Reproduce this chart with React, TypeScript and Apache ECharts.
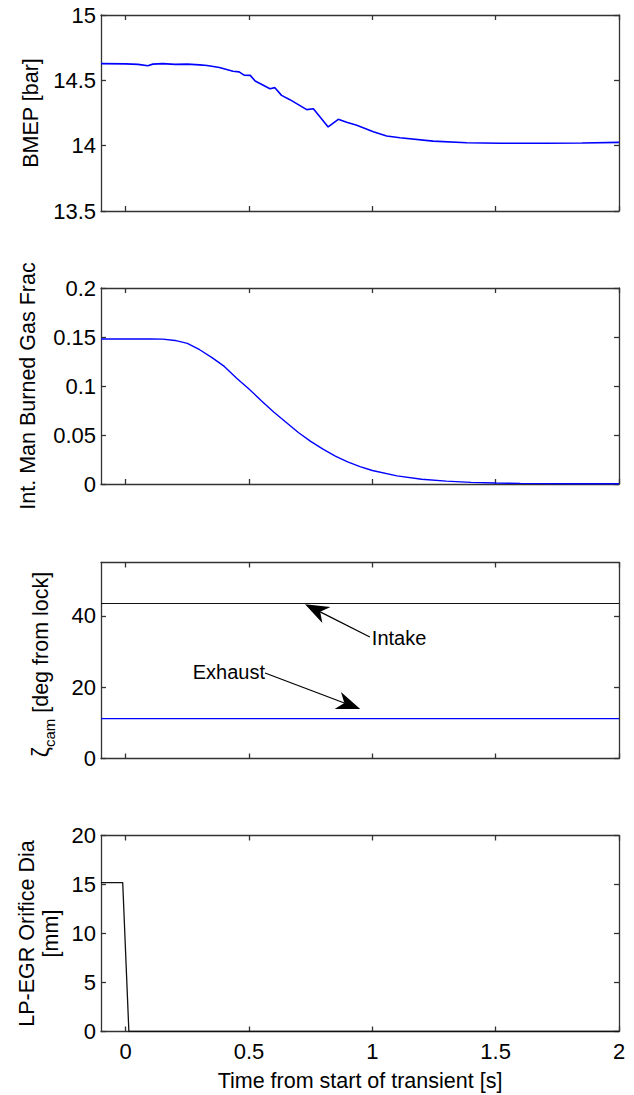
import React, { useEffect, useRef } from "react";
import * as echarts from "echarts";

// ---------- data ----------
const bmepT = [-0.1, 0.0, 0.05, 0.09, 0.11, 0.15, 0.2, 0.25, 0.3, 0.33, 0.38, 0.435, 0.46, 0.48, 0.505, 0.525, 0.585, 0.605, 0.632, 0.666, 0.734, 0.761, 0.821, 0.862, 0.896, 0.937, 1.004, 1.058, 1.112, 1.246, 1.383, 1.517, 1.7, 1.85, 2.0];
const bmepV = [14.628, 14.626, 14.622, 14.612, 14.624, 14.628, 14.622, 14.624, 14.618, 14.613, 14.598, 14.57, 14.565, 14.54, 14.538, 14.495, 14.436, 14.444, 14.385, 14.352, 14.276, 14.283, 14.143, 14.202, 14.179, 14.156, 14.107, 14.074, 14.061, 14.035, 14.022, 14.018, 14.018, 14.02, 14.025];

const bgfT = [-0.1, 0.0, 0.1, 0.15, 0.2, 0.25, 0.3, 0.35, 0.4, 0.45, 0.5, 0.55, 0.6, 0.65, 0.7, 0.75, 0.8, 0.85, 0.9, 0.95, 1.0, 1.1, 1.2, 1.3, 1.4, 1.5, 1.6, 1.7, 1.8, 2.0];
const bgfV = [0.148, 0.148, 0.148, 0.1478, 0.1465, 0.1435, 0.137, 0.129, 0.12, 0.108, 0.097, 0.085, 0.0735, 0.063, 0.0525, 0.0435, 0.0355, 0.0285, 0.0225, 0.0178, 0.0138, 0.0083, 0.0049, 0.0029, 0.0017, 0.001, 0.0006, 0.0004, 0.0003, 0.0002];

const camT = [-0.1, 2.0];
const intakeV = [43.5, 43.5];
const exhaustV = [11.2, 11.2];

const egrT = [-0.1, -0.012, 0.013, 2.0];
const egrV = [15.2, 15.2, 0, 0];

const xTicks = [0, 0.5, 1, 1.5, 2];
const bmepTicks = [13.5, 14, 14.5, 15];
const bgfTicks = [0, 0.05, 0.1, 0.15, 0.2];
const camTicks = [0, 20, 40];
const egrTicks = [0, 5, 10, 15, 20];

const yRanges = [
  [13.5, 15],
  [0, 0.2],
  [0, 55],
  [0, 20],
];

// annotation anchor points in data coordinates (panel 3)
const intakeTail = [0.99, 34.1];
const intakeTip = [0.727, 43.3];
const exhaustTail = [0.565, 24.0];
const exhaustTip = [0.951, 13.9];

// ---------- layout ----------
const FONT = '"Liberation Sans", Arial, Helvetica, sans-serif';
const AX = "#333333";
const GRID_LEFT = 101;
const GRID_W = 518;
const GRID_H = 196;
const GRID_TOPS = [15, 288, 562.5, 835.5];
const TICK_FS = 22;
const TITLE_FS = 21.5;

const zip = (a: number[], b: number[]) => a.map((v, i) => [v, b[i]]);

function xAxis(grid: number, pos: "bottom" | "top", labels: boolean) {
  return {
    type: "value",
    gridIndex: grid,
    position: pos,
    min: -0.1,
    max: 2,
    axisLine: { show: true, onZero: false, lineStyle: { color: AX, width: 1.3 } },
    axisTick: { show: true, inside: true, length: 5, customValues: xTicks, lineStyle: { color: AX, width: 1.3 } },
    axisLabel: { show: labels, customValues: xTicks, margin: 9, fontSize: TICK_FS, color: "#000", fontFamily: FONT },
    splitLine: { show: false },
  };
}

function yAxis(grid: number, pos: "left" | "right", ticks: number[], labels: boolean) {
  return {
    type: "value",
    gridIndex: grid,
    position: pos,
    min: yRanges[grid][0],
    max: yRanges[grid][1],
    axisLine: { show: true, onZero: false, lineStyle: { color: AX, width: 1.3 } },
    axisTick: { show: true, inside: true, length: 5, customValues: ticks, lineStyle: { color: AX, width: 1.3 } },
    axisLabel: { show: labels, customValues: ticks, margin: 5, fontSize: TICK_FS, color: "#000", fontFamily: FONT },
    splitLine: { show: false },
  };
}

function lineSeries(grid: number, data: number[][], color: string, width: number) {
  return {
    type: "line",
    xAxisIndex: grid * 2,
    yAxisIndex: grid * 2,
    data,
    showSymbol: false,
    symbol: "none",
    lineStyle: { color, width },
    z: 3,
  };
}

function arrow(tail: number[], tip: number[]) {
  const dx = tip[0] - tail[0];
  const dy = tip[1] - tail[1];
  const len = Math.sqrt(dx * dx + dy * dy);
  const ux = dx / len;
  const uy = dy / len;
  const nx = -uy;
  const ny = ux;
  const L = 24;
  const W = 9;
  const N = 17;
  const back = [tip[0] - N * ux, tip[1] - N * uy];
  return [
    {
      type: "line",
      z: 50,
      shape: { x1: tail[0], y1: tail[1], x2: back[0], y2: back[1] },
      style: { stroke: "#000", lineWidth: 1.2 },
    },
    {
      type: "polygon",
      z: 50,
      shape: {
        points: [
          [tip[0], tip[1]],
          [tip[0] - L * ux + W * nx, tip[1] - L * uy + W * ny],
          back,
          [tip[0] - L * ux - W * nx, tip[1] - L * uy - W * ny],
        ],
      },
      style: { fill: "#000" },
    },
  ];
}

export default function App() {
  const ref = useRef<HTMLDivElement>(null);
  useEffect(() => {
    document.body.style.margin = "0";
    if (!ref.current) return;
    const chart = echarts.init(ref.current, undefined, { renderer: "svg" });
    const grids = GRID_TOPS.map((t) => ({ left: GRID_LEFT, top: t, width: GRID_W, height: GRID_H, containLabel: false }));
    const xAxes: any[] = [];
    const yAxes: any[] = [];
    const tickSets = [bmepTicks, bgfTicks, camTicks, egrTicks];
    for (let i = 0; i < 4; i++) {
      xAxes.push(xAxis(i, "bottom", i === 3));
      xAxes.push(xAxis(i, "top", false));
      yAxes.push(yAxis(i, "left", tickSets[i], true));
      yAxes.push(yAxis(i, "right", tickSets[i], false));
    }
    chart.setOption({
      animation: false,
      backgroundColor: "#fff",
      textStyle: { fontFamily: FONT },
      grid: grids,
      xAxis: xAxes,
      yAxis: yAxes,
      series: [
        lineSeries(0, zip(bmepT, bmepV), "#0000ff", 1.6),
        lineSeries(1, zip(bgfT, bgfV), "#0000ff", 1.4),
        lineSeries(2, zip(camT, intakeV), "#111111", 1.2),
        lineSeries(2, zip(camT, exhaustV), "#0000ff", 1.3),
        lineSeries(3, zip(egrT, egrV), "#111111", 1.3),
      ],
    });

    const P = (pt: number[]) => chart.convertToPixel({ xAxisIndex: 4, yAxisIndex: 4 } as any, pt) as number[];
    const iTail = P(intakeTail);
    const iTip = P(intakeTip);
    const eTail = P(exhaustTail);
    const eTip = P(exhaustTip);
    const mid = (i: number) => GRID_TOPS[i] + GRID_H / 2;

    const ylabel = (text: string, x: number, y: number) => ({
      type: "text",
      x,
      y,
      rotation: Math.PI / 2,
      z: 50,
      style: { text, fontSize: TITLE_FS, fontFamily: FONT, fill: "#000", align: "center", verticalAlign: "middle" },
    });

    chart.setOption({
      graphic: [
        ylabel("BMEP [bar]", 31, mid(0)),
        ylabel("Int. Man Burned Gas Frac", 28, mid(1)),
        {
          type: "text",
          x: 41,
          y: mid(2) + 4,
          rotation: Math.PI / 2,
          z: 50,
          style: {
            text: "{z|ζ}{s|cam}{n| [deg from lock]}",
            align: "center",
            verticalAlign: "middle",
            fill: "#000",
            fontFamily: FONT,
            fontSize: TITLE_FS,
            rich: {
              z: { fontSize: 23, fontFamily: FONT, fill: "#000", lineHeight: 32, verticalAlign: "middle" },
              s: { fontSize: 15, fontFamily: FONT, fill: "#000", lineHeight: 16, verticalAlign: "bottom" },
              n: { fontSize: TITLE_FS, fontFamily: FONT, fill: "#000", lineHeight: 32, verticalAlign: "middle" },
            },
          },
        },
        ylabel("LP-EGR Orifice Dia", 27, mid(3)),
        ylabel("[mm]", 51, mid(3)),
        {
          type: "text",
          x: GRID_LEFT + GRID_W / 2,
          y: 1081,
          z: 50,
          style: { text: "Time from start of transient [s]", fontSize: TITLE_FS, fontFamily: FONT, fill: "#000", align: "center", verticalAlign: "middle" },
        },
        ...arrow(iTail, iTip),
        ...arrow(eTail, eTip),
        {
          type: "text",
          x: iTail[0] + 2,
          y: iTail[1] + 1,
          z: 50,
          style: { text: "Intake", fontSize: 20, fontFamily: FONT, fill: "#000", align: "left", verticalAlign: "middle" },
        },
        {
          type: "text",
          x: eTail[0],
          y: eTail[1] - 1,
          z: 50,
          style: { text: "Exhaust", fontSize: 20, fontFamily: FONT, fill: "#000", align: "right", verticalAlign: "middle" },
        },
      ],
    });

    return () => chart.dispose();
  }, []);
  return <div ref={ref} style={{ width: 634, height: 1095 }} />;
}
